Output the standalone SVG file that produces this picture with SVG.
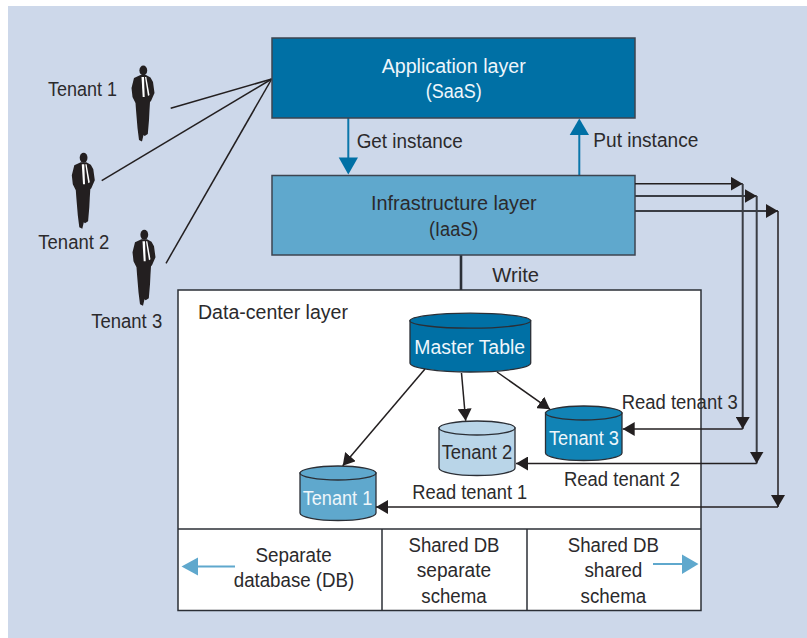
<svg xmlns="http://www.w3.org/2000/svg" width="807" height="638" viewBox="0 0 807 638">
<style>
text{font-family:"Liberation Sans",Arial,sans-serif;font-size:20px;fill:#2b2a2c;text-anchor:middle}
text.l{fill:#eef6fb}
.box{stroke:#3c4450;stroke-width:1.5}
.db{stroke:#2b2f36;stroke-width:1.3}
.k{stroke:#231f20;stroke-width:1.5;fill:none}
.g{stroke:#3a3d44;stroke-width:2;fill:none}
</style>
<defs>
<marker id="ak" markerUnits="userSpaceOnUse" markerWidth="13" markerHeight="14" refX="12" refY="7" orient="auto"><path d="M0 0L12 7L0 14Z" fill="#231f20"/></marker>
<g id="man">
<ellipse cx="23.300" cy="10.500" rx="3.900" ry="5" fill="#231f20"/>
<path fill="#231f20" d="M20.500 15L14 18L11.500 28L12.500 37L15.500 43L16 50L17.500 68L19 80L22 81.500L23.500 75L24.700 76L27.800 74L29 60L29.500 50L30 42L31 41L34.500 33L33 22L30.500 17.500L26 15Z"/>
<path fill="#fff" d="M21.500 17L24 17L24.700 37L22.700 37Z"/>
<path fill="#fff" d="M25 17L26.300 17L29.500 35L28 36Z"/>
</g>
</defs>
<rect x="8" y="6" width="799" height="632" fill="#cdd8ea"/>

<g id="connectors">
<line class="k" x1="271.700" y1="79" x2="170.700" y2="108.300"/>
<line class="k" x1="271.700" y1="79" x2="101.700" y2="180.700"/>
<line class="k" x1="271.700" y1="79" x2="166" y2="263.300"/>
<line x1="348.300" y1="118" x2="348.300" y2="158" stroke="#0a76aa" stroke-width="2"/>
<path d="M338.700 157.500H358L348.300 174.500Z" fill="#0070a5"/>
<line x1="579.300" y1="175" x2="579.300" y2="134" stroke="#0a76aa" stroke-width="2"/>
<path d="M569.700 135H589L579.300 118.500Z" fill="#0070a5"/>
<line x1="461" y1="255" x2="461" y2="290" stroke="#2b2f36" stroke-width="2.600"/>
</g>

<g id="application-layer">
<rect class="box" x="272" y="38" width="363" height="80" fill="#0070a5"/>
<text class="l" x="453.700" y="73" textLength="144" lengthAdjust="spacingAndGlyphs">Application layer</text>
<text class="l" x="453.700" y="98" textLength="56" lengthAdjust="spacingAndGlyphs">(SaaS)</text>
</g>
<g id="infrastructure-layer">
<rect class="box" x="272" y="175.500" width="363" height="79.500" fill="#5fa8cd"/>
<text x="453.800" y="210" textLength="165.700" lengthAdjust="spacingAndGlyphs">Infrastructure layer</text>
<text x="453.700" y="236" textLength="49.300" lengthAdjust="spacingAndGlyphs">(IaaS)</text>
</g>
<g id="data-center-layer">
<rect x="178" y="290" width="523" height="320.500" fill="#fff" stroke="#2b2f36" stroke-width="1.500"/>
<line x1="178" y1="529" x2="701" y2="529" stroke="#2b2f36" stroke-width="1.500"/>
<line x1="382" y1="529" x2="382" y2="610.500" stroke="#2b2f36" stroke-width="1.500"/>
<line x1="527" y1="529" x2="527" y2="610.500" stroke="#2b2f36" stroke-width="1.500"/>
<text x="273" y="319" textLength="150" lengthAdjust="spacingAndGlyphs">Data-center layer</text>
</g>

<g id="master-table">
<path class="db" d="M410 320.700V363A60.300 9 0 0 0 530.700 363V320.700Z" fill="#0070a5"/>
<ellipse class="db" cx="470.300" cy="320.700" rx="60.300" ry="7.500" fill="#0070a5"/>
<text class="l" x="469.700" y="354" textLength="110.700" lengthAdjust="spacingAndGlyphs">Master Table</text>
</g>
<g id="tenant-2-db">
<path class="db" d="M439 428V468A38 7.500 0 0 0 515 468V428Z" fill="#b9d5e8"/>
<ellipse class="db" cx="477" cy="428" rx="38" ry="7" fill="#b9d5e8"/>
<text x="477" y="459" textLength="70.700" lengthAdjust="spacingAndGlyphs">Tenant 2</text>
</g>
<g id="tenant-3-db">
<path class="db" d="M545.500 413V453A38.250 7.500 0 0 0 622 453V413Z" fill="#1183b5"/>
<ellipse class="db" cx="583.750" cy="413" rx="38.250" ry="7" fill="#1183b5"/>
<text class="l" x="584" y="445" textLength="70" lengthAdjust="spacingAndGlyphs">Tenant 3</text>
</g>
<g id="tenant-1-db">
<path class="db" d="M300 473V513A38 7.500 0 0 0 376 513V473Z" fill="#5fa8cd"/>
<ellipse class="db" cx="338" cy="473" rx="38" ry="7" fill="#5fa8cd"/>
<text class="l" x="337.500" y="505" textLength="69.600" lengthAdjust="spacingAndGlyphs">Tenant 1</text>
</g>

<g id="connectors-data">
<line class="k" x1="425" y1="369" x2="342.700" y2="465.700" marker-end="url(#ak)"/>
<line class="k" x1="461.500" y1="373" x2="465.700" y2="420.700" marker-end="url(#ak)"/>
<line class="k" x1="497" y1="372" x2="550" y2="409.300" marker-end="url(#ak)"/>
<line class="k" x1="635" y1="183.700" x2="742.700" y2="183.700" marker-end="url(#ak)"/>
<line class="g" x1="635" y1="196" x2="756.700" y2="196" marker-end="url(#ak)"/>
<line class="g" x1="635" y1="211" x2="778" y2="211" marker-end="url(#ak)"/>
<line class="g" x1="742.700" y1="184" x2="742.700" y2="429" marker-end="url(#ak)"/>
<line class="g" x1="756.700" y1="196" x2="756.700" y2="463.500" marker-end="url(#ak)"/>
<line class="k" x1="778" y1="211" x2="778" y2="507" marker-end="url(#ak)"/>
<line class="k" x1="742.700" y1="429" x2="622.700" y2="429" marker-end="url(#ak)"/>
<line class="k" x1="756.700" y1="463.500" x2="516" y2="463.500" marker-end="url(#ak)"/>
<line class="k" x1="778" y1="507" x2="376" y2="507" marker-end="url(#ak)"/>
<line x1="198" y1="566.500" x2="235" y2="566.500" stroke="#5fa8cd" stroke-width="2"/>
<path d="M198 557.500V575.500L181.500 566.500Z" fill="#5fa8cd"/>
<line x1="653" y1="564" x2="683" y2="564" stroke="#5fa8cd" stroke-width="2"/>
<path d="M682 554.500V574L698.500 564Z" fill="#5fa8cd"/>
</g>

<g id="tenant-1"><use href="#man" x="120" y="60"/><text x="82.500" y="96" textLength="69" lengthAdjust="spacingAndGlyphs">Tenant 1</text></g>
<g id="tenant-2"><use href="#man" x="60.300" y="147.300"/><text x="73.800" y="249" textLength="71" lengthAdjust="spacingAndGlyphs">Tenant 2</text></g>
<g id="tenant-3"><use href="#man" x="121" y="224.300"/><text x="126.700" y="328" textLength="71" lengthAdjust="spacingAndGlyphs">Tenant 3</text></g>

<g id="labels">
<text x="409.700" y="148" textLength="106" lengthAdjust="spacingAndGlyphs">Get instance</text>
<text x="645.800" y="147" textLength="105" lengthAdjust="spacingAndGlyphs">Put instance</text>
<text x="515.700" y="282" textLength="46.700" lengthAdjust="spacingAndGlyphs">Write</text>
<text x="679.700" y="409" textLength="116" lengthAdjust="spacingAndGlyphs">Read tenant 3</text>
<text x="622" y="486" textLength="116" lengthAdjust="spacingAndGlyphs">Read tenant 2</text>
<text x="469.800" y="499" textLength="115" lengthAdjust="spacingAndGlyphs">Read tenant 1</text>
<text x="293.600" y="562" textLength="76.400" lengthAdjust="spacingAndGlyphs">Separate</text>
<text x="294" y="587" textLength="120.500" lengthAdjust="spacingAndGlyphs">database (DB)</text>
<text x="454" y="552" textLength="91" lengthAdjust="spacingAndGlyphs">Shared DB</text>
<text x="454" y="577" textLength="74.400" lengthAdjust="spacingAndGlyphs">separate</text>
<text x="454" y="603" textLength="65.400" lengthAdjust="spacingAndGlyphs">schema</text>
<text x="613.400" y="552" textLength="91.300" lengthAdjust="spacingAndGlyphs">Shared DB</text>
<text x="613.400" y="577" textLength="58" lengthAdjust="spacingAndGlyphs">shared</text>
<text x="613.400" y="603" textLength="65.700" lengthAdjust="spacingAndGlyphs">schema</text>
</g>
</svg>
